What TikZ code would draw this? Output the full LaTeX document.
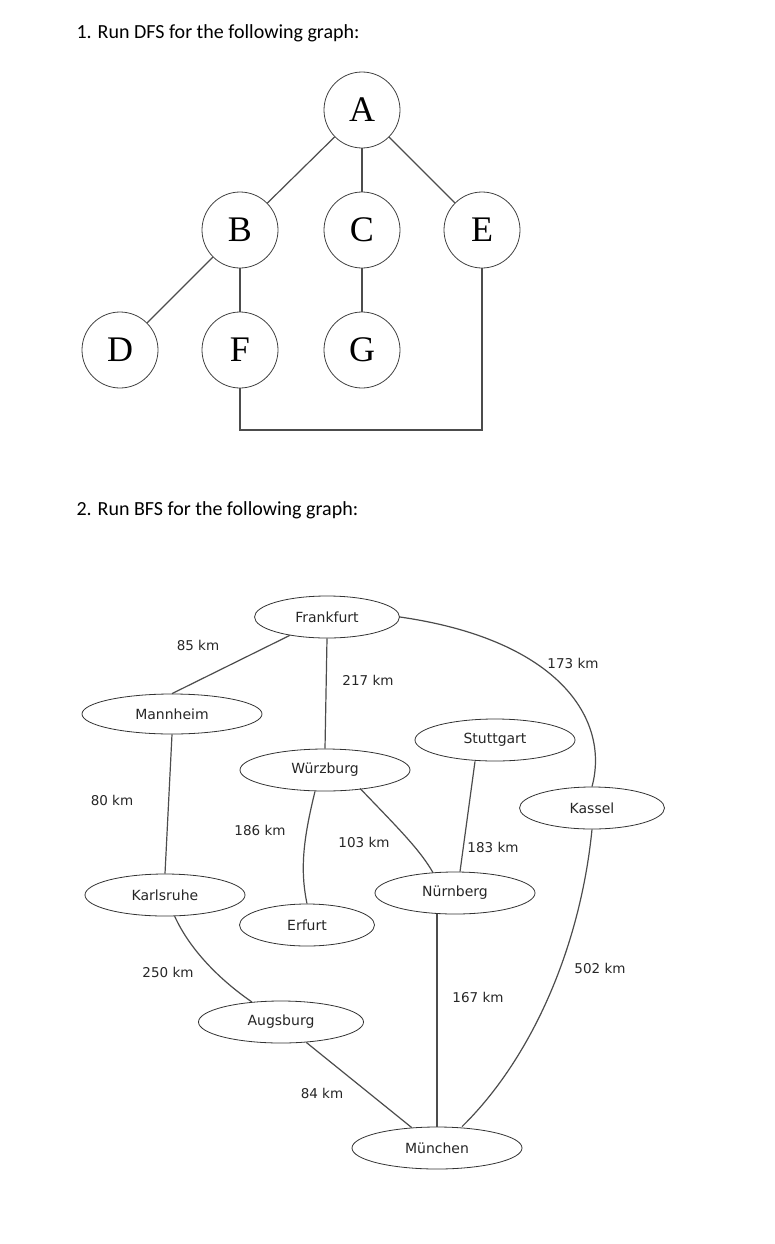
\documentclass[tikz,border=0pt]{standalone}
\usetikzlibrary{shapes.geometric,calc}
\usepackage{fontspec}
\setmainfont{Carlito}
\newfontfamily\lbl{DejaVu Sans}
\newfontfamily\vfont{Liberation Serif}
\begin{document}
\begin{tikzpicture}[x=1pt,y=-1pt,
  vtx/.style={circle,draw,thick,black!75,minimum size=76pt,inner sep=0pt,text=black,font=\vfont\fontsize{36}{36}\selectfont},
  city/.style={ellipse,draw,thick,black!80,inner sep=0pt,minimum height=42pt,text=black!85,font=\lbl\fontsize{14}{14}\selectfont},
  e/.style={draw,black!70,line width=1.2pt},
  km/.style={font=\lbl\fontsize{13.5}{14}\selectfont,text=black!85,inner sep=1pt}]
\useasboundingbox (0,0) rectangle (774,1244);
\node[anchor=west,font=\fontsize{20}{20}\selectfont] (t1) at (73,33) {1. Run DFS for the following graph:};
\node[anchor=west,font=\fontsize{20}{20}\selectfont] (t2) at (73,510) {2. Run BFS for the following graph:};
\node[vtx] (A) at (362,110) {A};
\node[vtx] (B) at (240,230) {B};
\node[vtx] (C) at (362,230) {C};
\node[vtx] (E) at (482,230) {E};
\node[vtx] (D) at (120,350) {D};
\node[vtx] (F) at (240,350) {F};
\node[vtx] (G) at (362,350) {G};
\draw[e] (A)--(B); \draw[e] (A)--(C); \draw[e] (A)--(E);
\draw[e] (B)--(D); \draw[e] (B)--(F); \draw[e] (C)--(G);
\draw[e] (F) |- (482,430) -- (E);

\node[city,minimum width=145pt] (fr) at (327,617) {Frankfurt};
\node[city,minimum width=180pt,minimum height=40pt] (ma) at (172,714) {Mannheim};
\node[city,minimum width=160pt] (st) at (495,740) {Stuttgart};
\node[city,minimum width=170pt] (wu) at (325,770) {Würzburg};
\node[city,minimum width=145pt] (ka) at (592,808) {Kassel};
\node[city,minimum width=160pt] (kr) at (165,895) {Karlsruhe};
\node[city,minimum width=160pt] (nu) at (455,893) {Nürnberg};
\node[city,minimum width=135pt] (er) at (307,925) {Erfurt};
\node[city,minimum width=165pt] (au) at (281,1022) {Augsburg};
\node[city,minimum width=170pt] (mu) at (437,1148) {München};

\draw[e] (fr) -- (ma.north);
\node[km] (l1) at (198,645) {85 km};
\draw[e] (fr.south) -- (wu.north);
\node[km] (l2) at (368,680) {217 km};
\draw[e] (fr.east) .. controls (560,640) and (610,720) .. (ka.north);
\node[km] (l3) at (573,663) {173 km};
\draw[e] (ma.south) -- (kr.north);
\node[km] (l4) at (112,800) {80 km};
\draw[e] ($(wu.south)+(-10,0)$) .. controls (303,840) and (300,870) .. (er.north);
\node[km] (l5) at (260,830) {186 km};
\draw[e] ($(wu.south)+(35,-3)$) .. controls (400,830) and (420,850) .. ($(nu.north)+(-22,1)$);
\node[km] (l6) at (364,842) {103 km};
\draw[e] ($(st.south)+(-20,0)$) -- ($(nu.north)+(5,0)$);
\node[km] (l7) at (493,847) {183 km};
\draw[e] (kr) .. controls (190,950) and (220,980) .. (au);
\node[km] (l8) at (168,972) {250 km};
\draw[e] (au) -- (mu);
\node[km] (l9) at (322,1093) {84 km};
\draw[e] (mu.north) -- (mu.north |- nu.south);
\node[km] (l10) at (478,997) {167 km};
\draw[e] (ka.south) .. controls (580,950) and (530,1060) .. ($(mu.north)+(25,0)$);
\node[km] (l11) at (600,968) {502 km};
\end{tikzpicture}
\end{document}
